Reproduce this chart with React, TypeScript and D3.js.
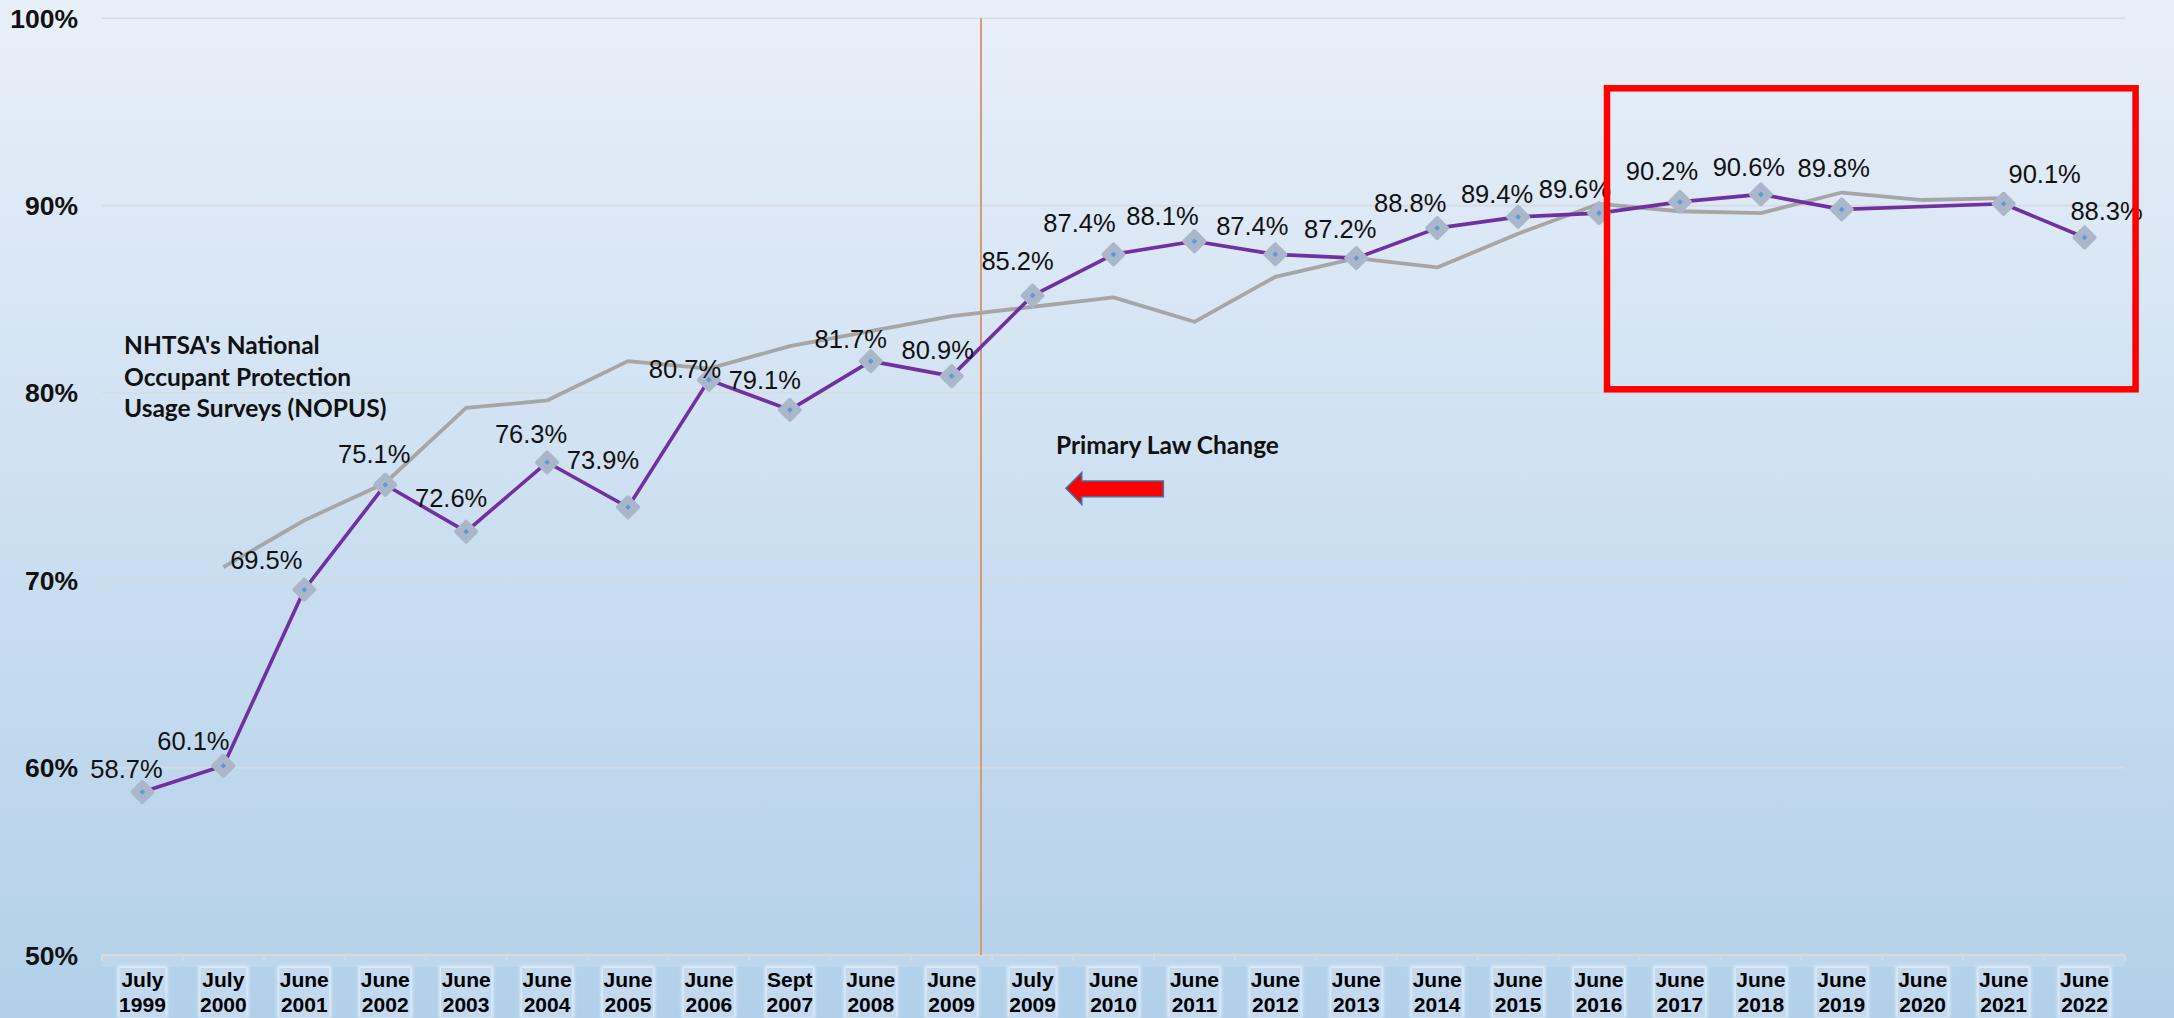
import React from "react";
import * as d3 from "d3";

const categories = [
  "July 1999", "July 2000", "June 2001", "June 2002", "June 2003", "June 2004",
  "June 2005", "June 2006", "Sept 2007", "June 2008", "June 2009", "July 2009",
  "June 2010", "June 2011", "June 2012", "June 2013", "June 2014", "June 2015",
  "June 2016", "June 2017", "June 2018", "June 2019", "June 2020", "June 2021", "June 2022",
];

// State survey belt-use rate (purple, labelled)
const stateRate: (number | null)[] = [
  58.7, 60.1, 69.5, 75.1, 72.6, 76.3, 73.9, 80.7, 79.1, 81.7, 80.9, 85.2,
  87.4, 88.1, 87.4, 87.2, 88.8, 89.4, 89.6, 90.2, 90.6, 89.8, null, 90.1, 88.3,
];

// NHTSA NOPUS national rate (grey)
const nationalRate: (number | null)[] = [
  null, 70.7, 73.2, 75.2, 79.2, 79.6, 81.7, 81.3, 82.5, 83.3, 84.1, null,
  85.1, 83.8, 86.2, 87.2, 86.7, 88.5, 90.1, 89.7, 89.6, 90.7, 90.3, 90.4, null,
];

const yTicks = [50, 60, 70, 80, 90, 100];

// manual data-label nudges [dx, dy] relative to each point
const labelNudge: ([number, number] | null)[] = [
  [-16, -14], [-30, -16], [-38, -21], [-11, -22], [-15, -25], [-16, -19],
  [-25, -38], [-24, -2], [-25, -21], [-20, -13], [-14, -17], [-15, -26],
  [-34, -22], [-32, -16], [-23, -19], [-16, -20], [-27, -16], [-21, -14],
  [-24, -15], [-18, -22], [-12, -18], [-8, -32], null, [41, -21], [22, -17],
];

const W = 2174;
const H = 1018;
const PLOT = { left: 102, right: 2125, top: 18.3, bottom: 955 };
const ARIAL = "'Liberation Sans', Arial, sans-serif";
const CAL = "Lato, 'Open Sans', sans-serif";

export default function App() {
  const x = d3.scaleBand<string>().domain(categories).range([PLOT.left, PLOT.right]).padding(0);
  const y = d3.scaleLinear().domain([50, 100]).range([PLOT.bottom, PLOT.top]);
  const cx = (i: number) => (x(categories[i]) as number) + x.bandwidth() / 2;

  const pts = (arr: (number | null)[]) =>
    arr.map((v, i) => ({ v, i })).filter((d) => d.v !== null) as { v: number; i: number }[];

  const line = d3
    .line<{ v: number; i: number }>()
    .x((d) => cx(d.i))
    .y((d) => y(d.v));

  const statePts = pts(stateRate);
  const natPts = pts(nationalRate);

  const boundaries = d3.range(categories.length + 1).map((k) => PLOT.left + k * x.bandwidth());

  const diamond = (px: number, py: number, r: number) =>
    `M${px},${py - r} L${px + r},${py} L${px},${py + r} L${px - r},${py} Z`;

  return (
    <svg
      width={W}
      height={H}
      style={{ position: "absolute", left: 0, top: 0, display: "block" }}
    >
      <defs>
        <linearGradient id="bg" x1="0" y1="0" x2="0" y2="1">
          <stop offset="0" stopColor="#e8eff9" />
          <stop offset="1" stopColor="#b2d0ea" />
        </linearGradient>
        <filter id="soft" x="-20%" y="-20%" width="140%" height="140%">
          <feGaussianBlur stdDeviation="1.6" />
        </filter>
      </defs>
      <rect x={0} y={0} width={W} height={H} fill="url(#bg)" />

      {/* gridlines */}
      {yTicks.filter((t) => t > 50).map((t) => (
        <line key={t} x1={PLOT.left} x2={PLOT.right} y1={y(t)} y2={y(t)} stroke="#d6dbe1" strokeWidth={1.6} />
      ))}

      {/* y labels */}
      {yTicks.map((t) => (
        <text
          key={t}
          x={78}
          y={y(t) + 9.5}
          textAnchor="end"
          fontFamily={ARIAL}
          fontWeight="bold"
          fontSize={26.5}
          fill="#111"
        >
          {t}%
        </text>
      ))}

      {/* axis band, line, ticks */}
      <rect x={PLOT.left} y={PLOT.bottom + 1} width={PLOT.right - PLOT.left} height={11} fill="#ffffff" opacity={0.12} />
      <line x1={PLOT.left} x2={PLOT.right} y1={PLOT.bottom} y2={PLOT.bottom} stroke="#d6d9dd" strokeWidth={2.5} />
      {boundaries.map((b, k) => (
        <line key={k} x1={b} x2={b} y1={PLOT.bottom} y2={PLOT.bottom + 6} stroke="#d6d9dd" strokeWidth={2} />
      ))}

      {/* category labels */}
      {categories.map((c, i) => {
        const [a, b] = c.split(" ");
        const px = cx(i);
        const w = a === "July" || a === "Sept" ? 46 : 50;
        return (
          <g key={c}>
            <rect x={px - w / 2 - 2} y={966} width={w + 4} height={52} fill="#e3eef9" filter="url(#soft)" />
            <rect x={px - w / 2} y={968} width={w} height={49} fill="#c2d9ef" />
            <text x={px} y={987} textAnchor="middle" fontFamily={ARIAL} fontWeight="bold" fontSize={21} fill="#000">
              {a}
            </text>
            <text x={px} y={1012} textAnchor="middle" fontFamily={ARIAL} fontWeight="bold" fontSize={21} fill="#000">
              {b}
            </text>
          </g>
        );
      })}

      {/* primary law change vertical line */}
      <line x1={981} x2={981} y1={PLOT.top} y2={PLOT.bottom} stroke="#d99a70" strokeWidth={2} />

      {/* NOPUS text */}
      <g fontFamily={CAL} fontWeight="bold" fontSize={24.5} fill="#111">
        <text x={124} y={354}>NHTSA's National</text>
        <text x={124} y={386}>Occupant Protection</text>
        <text x={124} y={417}>Usage Surveys (NOPUS)</text>
        <text x={1056} y={454}>Primary Law Change</text>
      </g>

      {/* arrow */}
      <path
        d="M1066,488.3 L1081.7,472.7 L1081.7,481 L1163.3,481 L1163.3,496.7 L1081.7,496.7 L1081.7,504.3 Z"
        fill="#ff0000"
        stroke="#41719c"
        strokeWidth={1.6}
        strokeLinejoin="miter"
      />

      {/* national line */}
      <path d={line(natPts) || ""} fill="none" stroke="#a6a6a6" strokeWidth={3.8} strokeLinejoin="round" />

      {/* state line */}
      <path d={line(statePts) || ""} fill="none" stroke="#7030a0" strokeWidth={3.6} strokeLinejoin="round" />

      {/* markers */}
      {statePts.map((d) => (
        <g key={d.i}>
          <path
            d={diamond(cx(d.i), y(d.v), 10)}
            fill="#aab6c9"
            stroke="#aab6c9"
            strokeWidth={4}
            strokeLinejoin="round"
          />
          <path d={diamond(cx(d.i), y(d.v), 2.8)} fill="#5b9bd5" />
        </g>
      ))}

      {/* data labels */}
      {statePts.map((d) => {
        const n = labelNudge[d.i] || [-20, -18];
        return (
          <text
            key={d.i}
            x={cx(d.i) + n[0]}
            y={y(d.v) + n[1]}
            textAnchor="middle"
            fontFamily={ARIAL}
            fontSize={25.5}
            fill="#111"
          >
            {d.v.toFixed(1)}%
          </text>
        );
      })}

      {/* red highlight rectangle */}
      <rect x={1607} y={88.3} width={528.6} height={301} fill="none" stroke="#ff0000" strokeWidth={6.5} />
    </svg>
  );
}
